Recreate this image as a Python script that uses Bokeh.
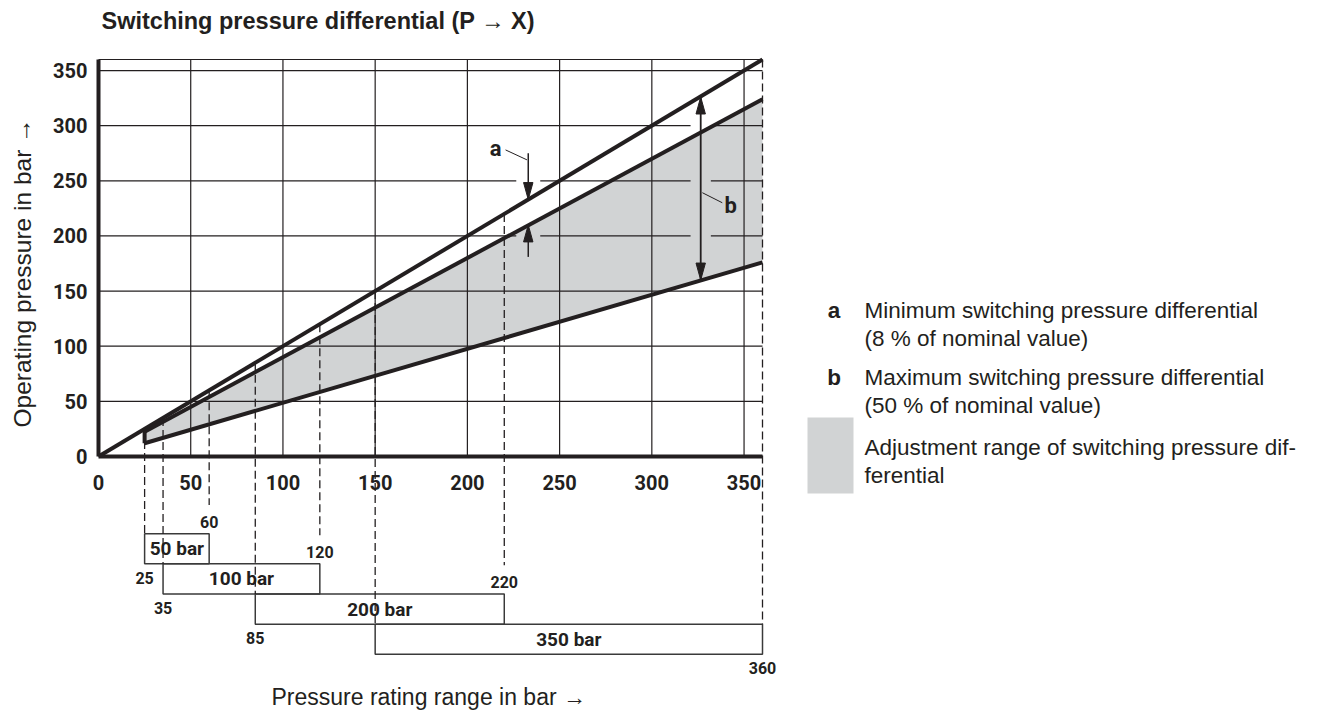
import numpy as np
from bokeh.plotting import figure
from bokeh.models import Range1d, LinearAxis, FixedTicker, Title
from bokeh.embed import file_html
from bokeh.resources import INLINE
from bokeh.core.properties import value

# ---------------- data ----------------
axis_ticks = [0, 50, 100, 150, 200, 250, 300, 350]
axis_max = 360

upper_x = [0, 360]          # nominal pressure line (y = x)
upper_y = [0, 360]
middle_x = [25, 360]        # upper limit of adjustment range
middle_y = [22.5, 324]
lower_x = [25, 360]         # lower limit of adjustment range
lower_y = [12, 176]

range_names = ["50 bar", "100 bar", "200 bar", "350 bar"]
range_lo = [25, 35, 85, 150]
range_hi = [60, 120, 220, 360]

edge_labels = ["25", "35", "85", "60", "120", "220", "360"]
edge_x = [25, 35, 85, 60, 120, 220, 360]
edge_row = [0, 1, 2, 0, 1, 2, 3]
edge_above = [False, False, False, True, True, True, False]

# annotation "a" (minimum differential) and "b" (maximum differential)
a_x = 233
a_tips = [233, 210]         # on upper line / on middle line
a_tails = [275, 181]
a_label_xy = (215.3, 279)
a_leader = ([220.7, 232.3], [278, 269])
b_x = 326.5
b_tips = [326, 160]
b_label_xy = (342.7, 227.6)
b_leader = ([327.4, 338.2], [239.2, 230.1])

legend_keys = ["a", "b", ""]
legend_lines = [["Minimum switching pressure differential", "(8 % of nominal value)"],
                ["Maximum switching pressure differential", "(50 % of nominal value)"],
                ["Adjustment range of switching pressure dif-", "ferential"]]

# ---------------- styles / layout ----------------
INK = "#231f20"
GREY = "#d1d3d4"
BOLDFONT = "Roboto"
TEXTFONT = "Liberation Sans"

PX_X = 664 / 360.0
PX_Y = 397 / 360.0
ROW_TOP0 = -70.0
ROW_H = 27.35

FIG_W, FIG_H = 1330, 711
FRAME_L, FRAME_R, FRAME_T, FRAME_B = 37, 1330, 35, 682
X0_PX, Y0_PX = 98, 456
x_start = -(X0_PX - FRAME_L) / PX_X
x_end = (FRAME_R - X0_PX) / PX_X
y_start = -(FRAME_B - Y0_PX) / PX_Y
y_end = (Y0_PX - FRAME_T) / PX_Y


def dx_of(px):
    return (px - X0_PX) / PX_X


def dy_of(py):
    return (Y0_PX - py) / PX_Y


p = figure(width=FIG_W, height=FIG_H,
           x_range=Range1d(x_start, x_end), y_range=Range1d(y_start, y_end),
           x_axis_location=None, y_axis_location=None,
           toolbar_location=None, output_backend="svg",
           min_border_left=FRAME_L, min_border_right=FIG_W - FRAME_R,
           min_border_top=FRAME_T, min_border_bottom=FIG_H - FRAME_B)
p.outline_line_color = None
p.background_fill_color = "white"
p.grid.visible = False

# title
p.title.text = "Switching pressure differential (P \u2192 X)"
p.title.align = "left"
p.title.vertical_align = "top"
p.title.offset = 101 - FRAME_L
p.title.standoff = 0
p.title.text_font = TEXTFONT
p.title.text_font_size = "23.5px"
p.title.text_font_style = "bold"
p.title.text_color = INK


def style_axis(ax):
    ax.axis_line_width = 4
    ax.axis_line_color = INK
    ax.major_tick_out = 0
    ax.major_tick_in = 0
    ax.minor_tick_out = 0
    ax.minor_tick_in = 0
    ax.major_label_text_font = BOLDFONT
    ax.major_label_text_font_style = "bold"
    ax.major_label_text_font_size = "20px"
    ax.major_label_text_color = INK


# y axis fixed at x = 0
yaxis = LinearAxis(ticker=FixedTicker(ticks=axis_ticks), bounds=(0, axis_max), fixed_location=0)
style_axis(yaxis)
yaxis.major_label_standoff = 11
p.add_layout(yaxis, "left")

ytitle = Title(text="Operating pressure in bar \u2192", align="left", vertical_align="top",
               offset=FRAME_B - 427, standoff=0, text_font=TEXTFONT, text_font_size="24.5px",
               text_font_style="normal", text_color=INK)
p.add_layout(ytitle, "left")

# x axis fixed at y = 0
xaxis = LinearAxis(ticker=FixedTicker(ticks=axis_ticks), bounds=(0, axis_max), fixed_location=0)
style_axis(xaxis)
xaxis.major_label_standoff = 18
p.add_layout(xaxis, "below")

xtitle = Title(text="Pressure rating range in bar \u2192", align="left", vertical_align="middle",
               offset=271 - FRAME_L, standoff=0, text_font=TEXTFONT, text_font_size="23px",
               text_font_style="normal", text_color=INK)
p.add_layout(xtitle, "below")

# adjustment range shading
p.patch(x=[lower_x[0], middle_x[0], middle_x[1], lower_x[1]],
        y=[lower_y[0], middle_y[0], middle_y[1], lower_y[1]],
        fill_color=GREY, line_color=None)

# grid lines (drawn over shading)
gv = axis_ticks[1:]
p.segment(x0=gv, y0=[0] * len(gv), x1=gv, y1=[axis_max] * len(gv), line_color=INK, line_width=1.2)
gh = axis_ticks[1:] + [axis_max]
p.segment(x0=[0] * len(gh), y0=gh, x1=[axis_max] * len(gh), y1=gh, line_color=INK, line_width=1.2)


# gaps in the grid around the dimension arrows
def band_color(x, y):
    mid = np.interp(x, middle_x, middle_y)
    lo = np.interp(x, lower_x, lower_y)
    return GREY if (lo < y < mid) else "white"


gap_x0, gap_x1, gap_y, gap_c = [], [], [], []
for gx, hw, rows in [(a_x, 6.5, [200, 250]), (b_x, 5.5, [200, 250, 300])]:
    for gy in rows:
        gap_x0.append(gx - hw); gap_x1.append(gx + hw); gap_y.append(gy)
        gap_c.append(band_color(gx, gy))
p.segment(x0=gap_x0, y0=gap_y, x1=gap_x1, y1=gap_y, line_color=gap_c, line_width=3)

# main lines
for xs, ys in [(upper_x, upper_y), (middle_x, middle_y), (lower_x, lower_y)]:
    p.line(xs, ys, line_color=INK, line_width=4)
p.line([lower_x[0], lower_x[0]], [lower_y[0], float(np.interp(lower_x[0], upper_x, upper_y))],
       line_color=INK, line_width=4)

# range boxes
tops = [ROW_TOP0 - ROW_H * i for i in range(len(range_names))]
bottoms = [t - ROW_H for t in tops]
p.quad(left=range_lo, right=range_hi, top=tops, bottom=bottoms,
       fill_color=None, line_color="#3a3a3a", line_width=1.5)
p.text(x=[(a + b) / 2 for a, b in zip(range_lo, range_hi)],
       y=[(t + b) / 2 for t, b in zip(tops, bottoms)], text=range_names,
       text_align="center", text_baseline="middle",
       text_font=value(BOLDFONT), text_font_style="bold", text_font_size="19px", text_color=INK)

# dashed connector lines
sx, sy0, sy1 = [], [], []
for i in range(len(range_names)):
    for ex in (range_lo[i], range_hi[i]):
        top_y = float(np.interp(ex, upper_x, upper_y))
        bottom_y = tops[i]
        for lx, lr, la in zip(edge_x, edge_row, edge_above):
            if lx == ex and lr == i and la:
                bottom_y = tops[i] + 26
        sx.append(ex); sy0.append(top_y); sy1.append(bottom_y)
p.segment(x0=sx, y0=sy0, x1=sx, y1=sy1, line_color=INK, line_width=1.3, line_dash="8 4")

# edge value labels
ly = []
for lr, la in zip(edge_row, edge_above):
    ly.append(tops[lr] + 11.0 if la else bottoms[lr] - 12.7)
p.text(x=edge_x, y=ly, text=edge_labels, text_align="center", text_baseline="middle",
       text_font=value(BOLDFONT), text_font_style="bold", text_font_size="16px", text_color=INK)

# dimension arrows
HL = 17 / PX_Y
HW = 4.7 / PX_X
p.segment(x0=[a_x, a_x], y0=a_tails, x1=[a_x, a_x], y1=a_tips, line_color=INK, line_width=1.5)
p.segment(x0=[b_x], y0=[b_tips[0]], x1=[b_x], y1=[b_tips[1]], line_color=INK, line_width=1.8)
heads_x, heads_y = [], []
for hx, tip, tail in [(a_x, a_tips[0], a_tails[0]), (a_x, a_tips[1], a_tails[1]),
                      (b_x, b_tips[0], b_tips[1]), (b_x, b_tips[1], b_tips[0])]:
    d = 1 if tail > tip else -1
    heads_x.append([hx - HW, hx, hx + HW])
    heads_y.append([tip + d * HL, tip, tip + d * HL])
p.patches(heads_x, heads_y, fill_color=INK, line_color=INK, line_width=1)

p.line(a_leader[0], a_leader[1], line_color=INK, line_width=1)
p.line(b_leader[0], b_leader[1], line_color=INK, line_width=1)
p.text(x=[a_label_xy[0], b_label_xy[0]], y=[a_label_xy[1], b_label_xy[1]], text=["a", "b"],
       text_align="center", text_baseline="middle",
       text_font=value(BOLDFONT), text_font_style="bold", text_font_size="22px", text_color=INK)

# ---------------- legend (right of the chart) ----------------
KEY_PX, TEXT_PX = 833.5, 864
FIRST_BASE_PX = [310, 377, 447]
LINE_GAP_PX = 27.5
p.quad(left=[dx_of(807)], right=[dx_of(853)], top=[dy_of(417)], bottom=[dy_of(493)],
       fill_color=GREY, line_color=None)
kx, ky, kt = [], [], []
tx, ty, tt = [], [], []
for key, lines, b0 in zip(legend_keys, legend_lines, FIRST_BASE_PX):
    if key:
        kx.append(dx_of(KEY_PX)); ky.append(dy_of(b0)); kt.append(key)
    for j, ln in enumerate(lines):
        tx.append(dx_of(TEXT_PX)); ty.append(dy_of(b0 + j * LINE_GAP_PX)); tt.append(ln)
p.text(x=kx, y=ky, text=kt, text_align="center", text_baseline="alphabetic",
       text_font=value(TEXTFONT), text_font_style="bold", text_font_size="22.5px", text_color=INK)
p.text(x=tx, y=ty, text=tt, text_align="left", text_baseline="alphabetic",
       text_font=value(TEXTFONT), text_font_style="normal", text_font_size="22.5px", text_color=INK)

open("out.html", "w").write(file_html(p, INLINE))
